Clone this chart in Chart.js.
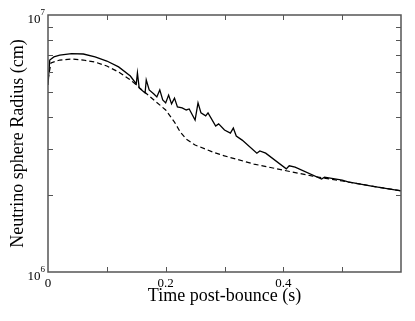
<!DOCTYPE html>
<html>
<head>
<meta charset="utf-8">
<script src="https://cdn.jsdelivr.net/npm/chart.js@4/dist/chart.umd.min.js"></script>
<style>
  html, body { margin: 0; padding: 0; background: #fff; }
  #wrap { width: 415px; height: 321px; position: relative; }
</style>
</head>
<body>
<div id="wrap"><canvas id="c"></canvas></div>
<script>
// tiempo post-bounce (s) y radio de la neutrinosfera (cm)
const solidTime = [0, 0.003, 0.01, 0.02, 0.04, 0.06, 0.08, 0.1, 0.12, 0.14, 0.15, 0.152, 0.155,
  0.165, 0.167, 0.172, 0.18, 0.185, 0.19, 0.195, 0.2, 0.205, 0.21, 0.215, 0.22, 0.228, 0.235,
  0.24, 0.25, 0.255, 0.26, 0.268, 0.272, 0.285, 0.29, 0.3, 0.31, 0.315, 0.32, 0.33, 0.355,
  0.36, 0.37, 0.405, 0.41, 0.42, 0.465, 0.47, 0.5, 0.51, 0.55, 0.6];
const solidRadius = [5.34e6, 6.68e6, 6.87e6, 6.98e6, 7.08e6, 7.05e6, 6.87e6, 6.62e6, 6.28e6, 5.79e6,
  5.39e6, 5.95e6, 5.20e6, 4.97e6, 5.59e6, 5.11e6, 4.93e6, 4.80e6, 5.11e6, 4.67e6, 4.55e6, 4.88e6,
  4.51e6, 4.75e6, 4.39e6, 4.35e6, 4.27e6, 4.31e6, 3.90e6, 4.55e6, 4.16e6, 4.05e6, 4.16e6, 3.70e6,
  3.77e6, 3.57e6, 3.47e6, 3.63e6, 3.38e6, 3.26e6, 2.90e6, 2.96e6, 2.90e6, 2.52e6, 2.59e6, 2.56e6,
  2.30e6, 2.34e6, 2.28e6, 2.24e6, 2.16e6, 2.07e6];

const dashedTime = [0, 0.005, 0.02, 0.04, 0.06, 0.08, 0.1, 0.12, 0.14, 0.16, 0.18, 0.2, 0.21,
  0.215, 0.225, 0.235, 0.25, 0.28, 0.3, 0.35, 0.4, 0.45, 0.5, 0.55, 0.6];
const dashedRadius = [5.6e6, 6.51e6, 6.68e6, 6.74e6, 6.68e6, 6.56e6, 6.33e6, 6.0e6, 5.59e6, 5.11e6,
  4.67e6, 4.27e6, 3.97e6, 3.83e6, 3.50e6, 3.29e6, 3.12e6, 2.93e6, 2.83e6, 2.63e6, 2.49e6, 2.36e6,
  2.26e6, 2.16e6, 2.07e6];

const xLabeled = [0, 0.2, 0.4];
const xTicks = [0.1, 0.2, 0.3, 0.4, 0.5];
const yMinor = [2e6, 3e6, 4e6, 5e6, 6e6, 7e6, 8e6, 9e6];
const yDecades = [6, 7];

const FONT = "'Liberation Serif', 'Times New Roman', serif";
Chart.defaults.font.family = FONT;
Chart.defaults.color = '#000';

const toPoints = (xs, ys) => xs.map((x, i) => ({ x, y: ys[i] }));

// Marco, marcas hacia dentro y etiquetas 10^n con exponente
const framePlugin = {
  id: 'frame',
  afterDraw(chart) {
    const { ctx, chartArea: a, scales } = chart;
    const len = 5;
    ctx.save();
    ctx.strokeStyle = '#555';
    ctx.lineWidth = 1.5;
    ctx.strokeRect(a.left, a.top, a.right - a.left, a.bottom - a.top);
    ctx.lineWidth = 1;
    ctx.beginPath();
    xTicks.forEach(v => {
      const px = Math.round(scales.x.getPixelForValue(v)) + 0.5;
      ctx.moveTo(px, a.bottom); ctx.lineTo(px, a.bottom - len);
      ctx.moveTo(px, a.top); ctx.lineTo(px, a.top + len);
    });
    yMinor.forEach(v => {
      const py = Math.round(scales.y.getPixelForValue(v)) + 0.5;
      ctx.moveTo(a.left, py); ctx.lineTo(a.left + len, py);
      ctx.moveTo(a.right, py); ctx.lineTo(a.right - len, py);
    });
    ctx.stroke();

    ctx.fillStyle = '#000';
    ctx.textBaseline = 'alphabetic';
    yDecades.forEach(n => {
      const py = scales.y.getPixelForValue(Math.pow(10, n));
      ctx.font = `9px ${FONT}`;
      ctx.textAlign = 'right';
      ctx.fillText(String(n), a.left - 3, py);
      const ew = ctx.measureText(String(n)).width;
      ctx.font = `13px ${FONT}`;
      ctx.fillText('10', a.left - 3 - ew, py + 8);
    });
    ctx.restore();
  },
};

new Chart(document.getElementById('c'), {
  type: 'line',
  data: {
    datasets: [
      {
        data: toPoints(solidTime, solidRadius),
        borderColor: '#000',
        borderWidth: 1.3,
        pointRadius: 0,
        tension: 0,
      },
      {
        data: toPoints(dashedTime, dashedRadius),
        borderColor: '#000',
        borderWidth: 1.2,
        borderDash: [5, 3],
        pointRadius: 0,
        tension: 0,
      },
    ],
  },
  options: {
    responsive: true,
    maintainAspectRatio: false,
    animation: false,
    layout: { padding: { top: 15, right: 14, left: 0, bottom: 0 } },
    plugins: { legend: { display: false }, tooltip: { enabled: false } },
    scales: {
      x: {
        type: 'linear',
        min: 0,
        max: 0.6,
        grid: { display: false, drawTicks: false },
        border: { display: false },
        afterBuildTicks: (s) => { s.ticks = xLabeled.map(v => ({ value: v })); },
        ticks: { font: { size: 13 }, padding: 4, maxRotation: 0, callback: (v) => String(v) },
        title: { display: true, text: 'Time post-bounce (s)', font: { size: 18 }, padding: { top: 0, bottom: 14 } },
        afterFit: (s) => { s.height = 49; },
      },
      y: {
        type: 'logarithmic',
        min: 1e6,
        max: 1e7,
        grid: { display: false, drawTicks: false },
        border: { display: false },
        ticks: { display: false },
        title: { display: true, text: 'Neutrino sphere Radius (cm)', font: { size: 18 }, padding: { top: 7, bottom: 0 } },
        afterFit: (s) => { s.width = 48; },
      },
    },
  },
  plugins: [framePlugin],
});
</script>
</body>
</html>
